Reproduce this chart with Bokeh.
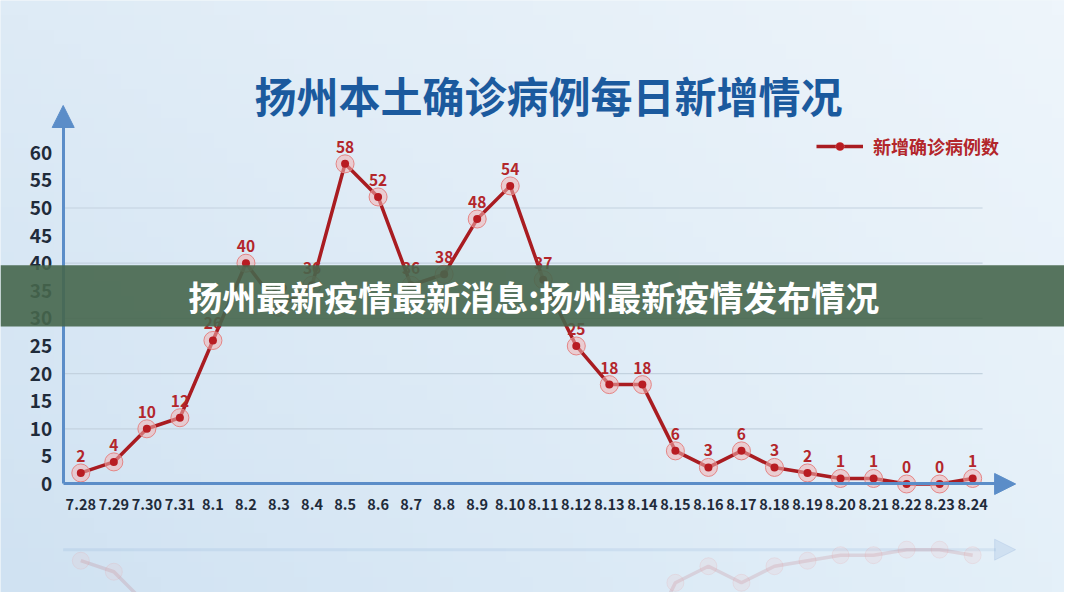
import numpy as np
from bokeh.plotting import figure
from bokeh.models import (LinearAxis, FixedTicker, BoxAnnotation, Label, Legend, LegendItem,
                          Arrow, NormalHead, ColumnDataSource)
from bokeh.core.properties import value
from bokeh.embed import file_html
from bokeh.resources import INLINE

# ---------------- data ----------------
dates = ["7.28", "7.29", "7.30", "7.31", "8.1", "8.2", "8.3", "8.4", "8.5", "8.6",
         "8.7", "8.8", "8.9", "8.10", "8.11", "8.12", "8.13", "8.14", "8.15", "8.16",
         "8.17", "8.18", "8.19", "8.20", "8.21", "8.22", "8.23", "8.24"]
cases = [2, 4, 10, 12, 26, 40, 32, 36, 58, 52,
         36, 38, 48, 54, 37, 25, 18, 18, 6, 3,
         6, 3, 2, 1, 1, 0, 0, 1]
y_ticks = [0, 5, 10, 15, 20, 25, 30, 35, 40, 45, 50, 55, 60]
grid_values = [10, 20, 30, 40, 50]

title_text = "扬州本土确诊病例每日新增情况"
series_name = "新增确诊病例数"
banner_text = "扬州最新疫情最新消息:扬州最新疫情发布情况"

FONT = "Noto Sans CJK SC"
RED = "#a91c21"
LABEL_RED = "#b3262b"
AXIS_BLUE = "#5b8dc8"

idx = list(range(len(dates)))
mirror = -11.9
src = ColumnDataSource(dict(x=idx, y=cases, lab=[str(c) for c in cases],
                            yr=[mirror - c for c in cases]))

W, H = 1064, 592
x0, x1 = -2.431, 29.78
y0, y1 = -19.66, 87.59
yaxis_x = -0.533

p = figure(width=W, height=H, output_backend="svg", toolbar_location=None,
           x_range=(x0, x1), y_range=(y0, y1), x_axis_type=None, y_axis_type=None,
           min_border=0, min_border_left=0, min_border_right=0,
           min_border_top=0, min_border_bottom=0)
p.outline_line_color = None
p.background_fill_color = "#e4eff8"
p.border_fill_color = "#e4eff8"

# background gradient (decorative)
ny, nx = 40, 80
tl = np.array([222, 235, 246]); tr = np.array([238, 245, 251])
bl = np.array([208, 226, 242]); br = np.array([228, 240, 249])
u = np.linspace(0, 1, nx)[None, :, None]
v = np.linspace(0, 1, ny)[:, None, None]   # v=0 bottom row
col = (bl * (1 - u) * (1 - v) + br * u * (1 - v) + tl * (1 - u) * v + tr * u * v)
img = np.zeros((ny, nx), dtype=np.uint32)
view = img.view(dtype=np.uint8).reshape((ny, nx, 4))
view[:, :, 0:3] = col.astype(np.uint8)
view[:, :, 3] = 255
p.image_rgba(image=[img], x=x0, y=y0, dw=x1 - x0, dh=y1 - y0)

# grid lines
p.segment(x0=[yaxis_x] * len(grid_values), y0=grid_values,
          x1=[27.3] * len(grid_values), y1=grid_values,
          line_color="#c3d2df", line_width=1.2)

# axes
xaxis = LinearAxis(fixed_location=0, bounds=(yaxis_x, 27.7),
                   ticker=FixedTicker(ticks=idx),
                   major_label_overrides={i: d for i, d in zip(idx, dates)})
xaxis.axis_line_color = AXIS_BLUE
xaxis.axis_line_width = 3
xaxis.major_tick_line_color = None
xaxis.minor_tick_line_color = None
xaxis.major_label_standoff = 9
xaxis.major_label_text_font = FONT
xaxis.major_label_text_font_style = "bold"
xaxis.major_label_text_font_size = "14.5px"
xaxis.major_label_text_color = "#1f2b3a"
p.add_layout(xaxis, "below")

yaxis = LinearAxis(fixed_location=yaxis_x, bounds=(0, 65.5),
                   ticker=FixedTicker(ticks=y_ticks))
yaxis.axis_line_color = AXIS_BLUE
yaxis.axis_line_width = 3
yaxis.major_tick_line_color = None
yaxis.minor_tick_line_color = None
yaxis.major_label_standoff = 5
yaxis.major_label_text_font = FONT
yaxis.major_label_text_font_style = "bold"
yaxis.major_label_text_font_size = "19px"
yaxis.major_label_text_color = "#1f2b3a"
p.add_layout(yaxis, "left")

# axis arrows
p.add_layout(Arrow(end=NormalHead(size=21, fill_color=AXIS_BLUE, line_color=AXIS_BLUE),
                   x_start=27.6, y_start=0, x_end=28.3, y_end=0, line_alpha=0))
p.add_layout(Arrow(end=NormalHead(size=22, fill_color=AXIS_BLUE, line_color=AXIS_BLUE),
                   x_start=yaxis_x, y_start=64.9, x_end=yaxis_x, y_end=68.57, line_alpha=0))

# reflection (faint)
p.segment(x0=[yaxis_x], y0=[mirror], x1=[27.7], y1=[mirror],
          line_color=AXIS_BLUE, line_width=3, line_alpha=0.12)
p.add_layout(Arrow(end=NormalHead(size=21, fill_color=AXIS_BLUE, line_color=AXIS_BLUE,
                                  fill_alpha=0.15, line_alpha=0.15),
                   x_start=27.6, y_start=mirror, x_end=28.3, y_end=mirror, line_alpha=0))
p.line("x", "yr", source=src, line_color=RED, line_width=3.5, line_alpha=0.12)
p.scatter("x", "yr", source=src, size=17, fill_color="#f2b3b3", fill_alpha=0.15,
          line_color="#e88c8c", line_alpha=0.15)

# main series
line_r = p.line("x", "y", source=src, line_color=RED, line_width=3.5)
halo_r = p.scatter("x", "y", source=src, size=18, fill_color="#f2b3b3", fill_alpha=0.55,
                   line_color="#e58585", line_width=1)
dot_r = p.scatter("x", "y", source=src, size=8, fill_color="#b81c22", line_color=None)
p.text("x", "y", text="lab", source=src, text_align="center", text_baseline="bottom",
       y_offset=-11, text_font=value(FONT), text_font_style="bold",
       text_font_size="15.5px", text_color=LABEL_RED)

# legend
legend = Legend(items=[LegendItem(label=series_name, renderers=[line_r, halo_r, dot_r])],
                location=(816, 433), orientation="vertical")
legend.background_fill_alpha = 0
legend.border_line_color = None
legend.glyph_width = 47
legend.glyph_height = 20
legend.label_standoff = 10
legend.padding = 5
legend.label_text_font = FONT
legend.label_text_font_style = "bold"
legend.label_text_font_size = "18px"
legend.label_text_color = LABEL_RED
p.add_layout(legend)

# title
p.add_layout(Label(x=14.16, y=70.56, text=title_text, text_align="center",
                   text_baseline="middle", text_font=FONT, text_font_style="bold",
                   text_font_size="42px", text_color="#1b5a9e"))

# banner overlay
p.add_layout(BoxAnnotation(bottom=28.53, top=39.64, fill_color="#46664d", fill_alpha=0.9,
                           line_color=None))
p.add_layout(Label(x=13.71, y=33.97, text=banner_text, text_align="center",
                   text_baseline="middle", text_font=FONT, text_font_style="bold",
                   text_font_size="34px", text_color="white"))

open("out.html", "w").write(file_html(p, INLINE))
